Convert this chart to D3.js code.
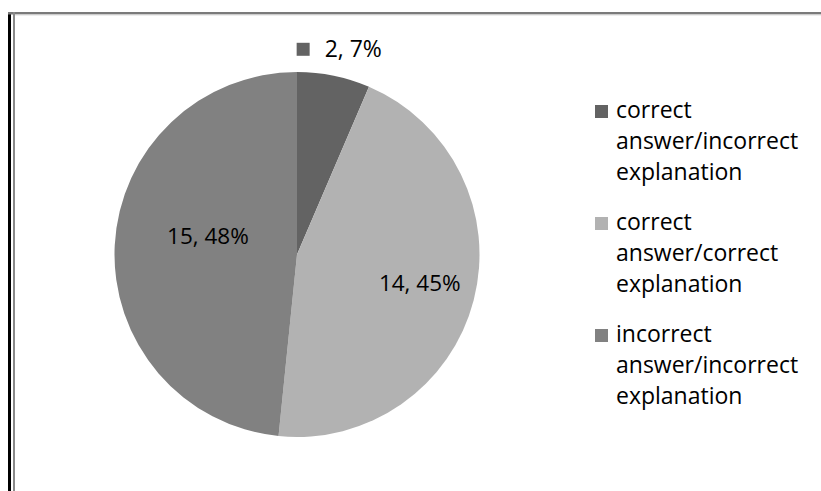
<!DOCTYPE html>
<html>
<head>
<meta charset="utf-8">
<script src="https://cdn.jsdelivr.net/npm/d3@7"></script>
<style>
  html, body { margin: 0; padding: 0; background: #ffffff; }
  svg { display: block; }
  text { font-family: "Open Sans", "Noto Sans", sans-serif; fill: #000000; }
</style>
</head>
<body>
<svg id="chart" width="821" height="491"></svg>
<script>
// Answer categories (legend lines as they wrap)
const categories = [
  "correct answer/incorrect explanation",
  "correct answer/correct explanation",
  "incorrect answer/incorrect explanation"
];
const legendLines = [
  ["correct", "answer/incorrect", "explanation"],
  ["correct", "answer/correct", "explanation"],
  ["incorrect", "answer/incorrect", "explanation"]
];
// Number of students per category and the stated shares
const counts = [2, 14, 15];
const percentLabels = ["7%", "45%", "48%"];

// Styling
const sliceColors = ["#636363", "#b2b2b2", "#818181"];
const W = 821, H = 491;
const cx = 297, cy = 254.5, R = 182.5;
// label placement per slice: distance from centre and a small angular shift (degrees)
const labelPlacement = [
  { radius: 210, turn: 0, outside: true },
  { radius: 126, turn: -1.5, outside: false },
  { radius: 91, turn: 8.8, outside: false }
];

const svg = d3.select("#chart");

// frame: black outer rule on the left, grey border on top and left
svg.append("rect").attr("x", 8).attr("y", 12).attr("width", 3).attr("height", H - 12).attr("fill", "#000");
svg.append("rect").attr("x", 8).attr("y", 12).attr("width", W - 8).attr("height", 2.5).attr("fill", "#7a7a7a");
svg.append("rect").attr("x", 15).attr("y", 14.5).attr("width", W - 15).attr("height", 1).attr("fill", "#dcdcdc");
svg.append("rect").attr("x", 13).attr("y", 12).attr("width", 2).attr("height", H - 12).attr("fill", "#8a8a8a");

const pie = d3.pie().sort(null).value(d => d)(counts);
const arc = d3.arc().innerRadius(0).outerRadius(R);

const g = svg.append("g").attr("transform", `translate(${cx},${cy})`);
g.selectAll("path.slice")
  .data(pie)
  .join("path")
  .attr("class", "slice")
  .attr("d", arc)
  .attr("fill", (d, i) => sliceColors[i]);

function polar(angle, radius) {
  return [cx + radius * Math.sin(angle), cy - radius * Math.cos(angle)];
}

// data labels
pie.forEach((d, i) => {
  const p = labelPlacement[i];
  const a = (d.startAngle + d.endAngle) / 2 + p.turn * Math.PI / 180;
  const [lx, ly] = polar(a, p.radius);
  const txt = `${counts[i]}, ${percentLabels[i]}`;
  if (p.outside) {
    const fs = 23, key = 13, gap = 15;
    const t = svg.append("text")
      .attr("font-size", fs)
      .attr("y", ly + fs * 0.714 / 2)
      .text(txt);
    const tw = t.node().getComputedTextLength();
    const total = key + gap + tw;
    const left = lx - total / 2;
    t.attr("x", left + key + gap);
    svg.append("rect")
      .attr("x", left).attr("y", ly - key / 2 + 0.5)
      .attr("width", key).attr("height", key)
      .attr("fill", sliceColors[i]);
  } else {
    const fs = 22.5;
    svg.append("text")
      .attr("font-size", fs)
      .attr("text-anchor", "middle")
      .attr("x", lx)
      .attr("y", ly + fs * 0.714 / 2)
      .text(txt);
  }
});

// legend
const legendX = 595, legendTop = 118, lineStep = 31, groupStep = 112, keySize = 13;
const legend = svg.append("g");
categories.forEach((c, i) => {
  const baseY = legendTop + i * groupStep;
  legend.append("rect")
    .attr("x", legendX).attr("y", baseY - keySize)
    .attr("width", keySize).attr("height", keySize)
    .attr("fill", sliceColors[i]);
  const t = legend.append("text")
    .attr("font-size", 23)
    .attr("x", legendX + 21)
    .attr("y", baseY);
  legendLines[i].forEach((line, j) => {
    t.append("tspan")
      .attr("x", legendX + 21)
      .attr("y", baseY + j * lineStep)
      .text(line);
  });
});
</script>
</body>
</html>
